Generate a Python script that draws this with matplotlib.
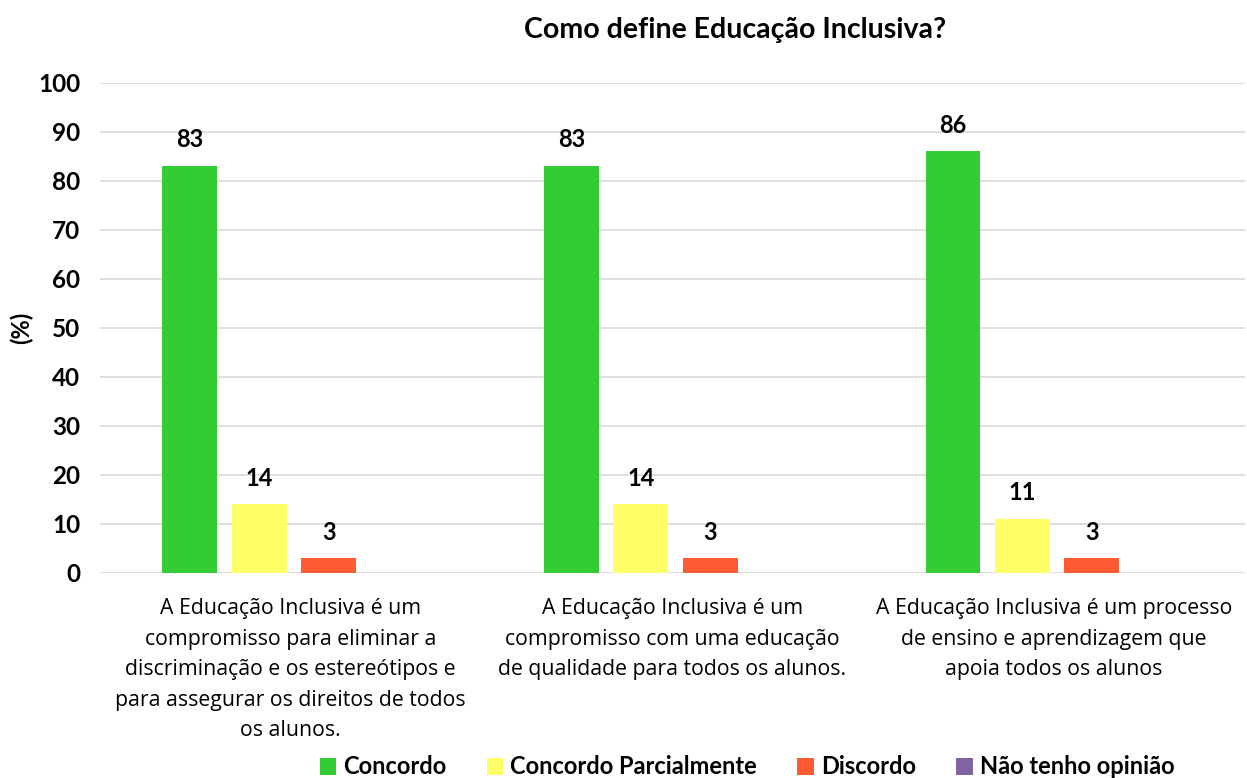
import numpy as np
import matplotlib.pyplot as plt

categorias = [
    "A Educação Inclusiva é um\ncompromisso para eliminar a\ndiscriminação e os estereótipos e\npara assegurar os direitos de todos\nos alunos.",
    "A Educação Inclusiva é um\ncompromisso com uma educação\nde qualidade para todos os alunos.",
    "A Educação Inclusiva é um processo\nde ensino e aprendizagem que\napoia todos os alunos",
]
series = ["Concordo", "Concordo Parcialmente", "Discordo", "Não tenho opinião"]
concordo = [83, 83, 86]
concordo_parcial = [14, 14, 11]
discordo = [3, 3, 3]
sem_opiniao = [0, 0, 0]
cores = ["#33CC33", "#FFFF66", "#FF5B33", "#8064A2"]

valores = [concordo, concordo_parcial, discordo, sem_opiniao]

fig = plt.figure(figsize=(12.47, 7.78), dpi=100)
ax = fig.add_axes([0.080, 0.2635, 0.918, 0.63])

x = np.arange(len(categorias))
passo = 0.182
largura = 0.144
for i, (nome, vals, cor) in enumerate(zip(series, valores, cores)):
    pos = x + (i - 1.45) * passo
    barras = ax.bar(pos, vals, largura, color=cor, label=nome, zorder=3)
    for b, v in zip(barras, vals):
        if v > 0:
            ax.text(b.get_x() + b.get_width() / 2, v + 3, str(v), ha="center",
                    va="bottom", fontsize=17, fontweight="bold", family="Lato")

ax.set_xlim(-0.5, 2.5)
ax.set_ylim(0, 100)
ax.set_yticks(range(0, 101, 10))
ax.set_xticks(x)
ax.set_xticklabels(categorias, fontsize=15.3, family="Open Sans", linespacing=1.6)
for lbl in ax.get_yticklabels():
    lbl.set_fontweight("bold")
    lbl.set_fontsize(17.5)
    lbl.set_family("Lato")
ax.tick_params(axis="x", length=0, pad=18)
ax.tick_params(axis="y", length=0, pad=14)
ax.grid(axis="y", color="#D9D9D9", linewidth=1.2, zorder=0)
for s in ax.spines.values():
    s.set_visible(False)

ax.set_ylabel("(%)", fontsize=17, fontweight="bold", family="Lato")
ax.yaxis.set_label_coords(-0.058, 0.5)

fig.text(735 / 1247, 1 - 30 / 778, "Como define Educação Inclusiva?", ha="center",
         va="center", fontsize=20.5, fontweight="bold", family="Lato")

leg = fig.legend(loc="center", bbox_to_anchor=(747 / 1247, 1 - 767 / 778), ncol=4,
                 frameon=False, handlelength=0.7, handleheight=0.7, columnspacing=1.7,
                 handletextpad=0.3, prop={"family": "Lato", "weight": "bold", "size": 17})

fig.savefig("out.png", dpi=100)
